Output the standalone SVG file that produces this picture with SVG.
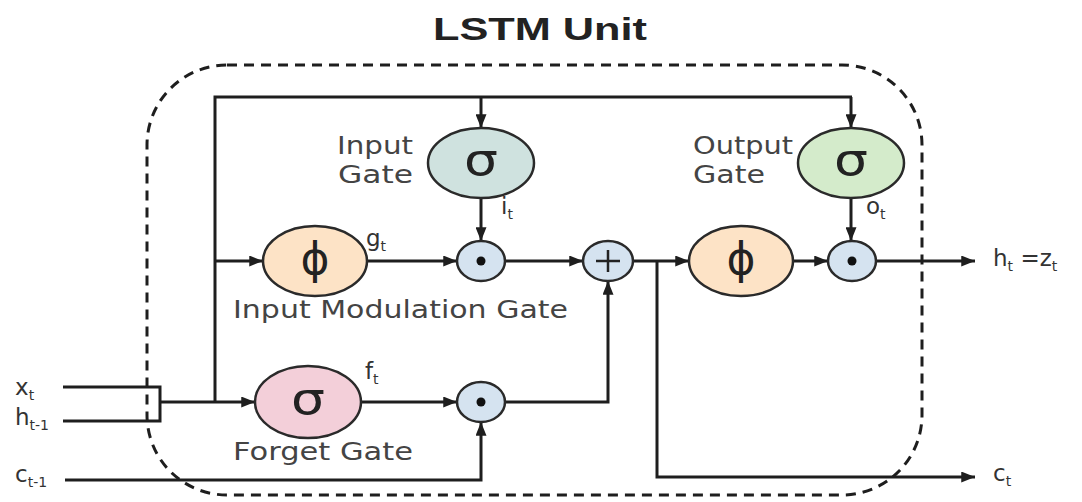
<svg xmlns="http://www.w3.org/2000/svg" width="1082" height="502" viewBox="0 0 1082 502">
<style>
.ln{fill:none;stroke:#1e1e1e;stroke-width:3}
.ar{marker-end:url(#ah)}
.gate{stroke:#2a2a2a;stroke-width:2.5}
.lbl{font-family:"DejaVu Sans","Liberation Sans",sans-serif;font-size:25px;fill:#444}
.sym{font-family:"DejaVu Sans","Liberation Sans",sans-serif;font-size:44px;fill:#222;text-anchor:middle}
.var{font-family:"DejaVu Sans","Liberation Sans",sans-serif;font-size:23px;fill:#333}
.sub{font-size:14px}
</style>
<defs>
<marker id="ah" viewBox="0 0 10 8" refX="10" refY="4" markerWidth="14" markerHeight="11" markerUnits="userSpaceOnUse" orient="auto">
<path d="M0,0 L10,4 L0,8 z" fill="#1e1e1e"/>
</marker>
</defs>
<rect width="1082" height="502" fill="#fff"/>
<text x="540" y="40" text-anchor="middle" font-family="Liberation Sans, Arial, sans-serif" font-weight="bold" font-size="31" fill="#222" textLength="214" lengthAdjust="spacingAndGlyphs">LSTM Unit</text>
<rect id="unit-border" x="147" y="65" width="775" height="430" rx="80" ry="80" fill="none" stroke="#1e1e1e" stroke-width="3" stroke-dasharray="10 7"/>
<g id="connectors">
<path class="ln" d="M215,402 V97 H852"/>
<path class="ln ar" d="M481,97 V128"/>
<path class="ln ar" d="M851,97 V128"/>
<path class="ln ar" d="M481,198 V241"/>
<path class="ln ar" d="M851,198 V241"/>
<path class="ln ar" d="M215,261 H263"/>
<path class="ln ar" d="M367,261 H457"/>
<path class="ln ar" d="M505,261 H583"/>
<path class="ln ar" d="M633,261 H689"/>
<path class="ln ar" d="M793,261 H828"/>
<path class="ln ar" d="M876,261 H975"/>
<path class="ln ar" d="M657,261 V477 H975"/>
<path class="ln" d="M63,387 H160 V421 H63"/>
<path class="ln ar" d="M160,402 H255"/>
<path class="ln ar" d="M361,402 H457"/>
<path class="ln ar" d="M505,402 H608 V281"/>
<path class="ln ar" d="M65,480 H481 V422"/>
</g>
<g id="input-gate">
<ellipse class="gate" cx="481" cy="163" rx="53" ry="35" fill="#cfe2df"/>
<text class="sym" x="481" y="175" textLength="34" lengthAdjust="spacingAndGlyphs">σ</text>
<text class="lbl" x="337" y="154" textLength="76" lengthAdjust="spacingAndGlyphs">Input</text>
<text class="lbl" x="338" y="183" textLength="75" lengthAdjust="spacingAndGlyphs">Gate</text>
</g>
<g id="output-gate">
<ellipse class="gate" cx="851" cy="163" rx="53" ry="35" fill="#d4ebcb"/>
<text class="sym" x="851" y="175" textLength="34" lengthAdjust="spacingAndGlyphs">σ</text>
<text class="lbl" x="693" y="154" textLength="100" lengthAdjust="spacingAndGlyphs">Output</text>
<text class="lbl" x="693" y="183" textLength="72" lengthAdjust="spacingAndGlyphs">Gate</text>
</g>
<g id="input-modulation-gate">
<ellipse class="gate" cx="315" cy="261" rx="52" ry="35" fill="#fde3c6"/>
<text class="sym" x="315" y="274">ϕ</text>
<text class="lbl" x="233" y="318" textLength="335" lengthAdjust="spacingAndGlyphs">Input Modulation Gate</text>
</g>
<g id="mult-input">
<ellipse class="gate" cx="481" cy="261" rx="24" ry="20" fill="#d5e3f0"/>
<circle cx="481" cy="261" r="4.5" fill="#111"/>
</g>
<g id="add-cell">
<ellipse class="gate" cx="608" cy="261" rx="25" ry="20" fill="#d5e3f0"/>
<path d="M596,261 H620 M608,250 V272" stroke="#222" stroke-width="2.5"/>
</g>
<g id="cell-tanh">
<ellipse class="gate" cx="741" cy="261" rx="52" ry="35" fill="#fde3c6"/>
<text class="sym" x="741" y="274">ϕ</text>
</g>
<g id="mult-output">
<ellipse class="gate" cx="852" cy="261" rx="24" ry="20" fill="#d5e3f0"/>
<circle cx="852" cy="261" r="4.5" fill="#111"/>
</g>
<g id="forget-gate">
<ellipse class="gate" cx="308" cy="402" rx="53" ry="36" fill="#f3cfd9"/>
<text class="sym" x="308" y="414" textLength="34" lengthAdjust="spacingAndGlyphs">σ</text>
<text class="lbl" x="233" y="460" textLength="180" lengthAdjust="spacingAndGlyphs">Forget Gate</text>
</g>
<g id="mult-forget">
<ellipse class="gate" cx="481" cy="402" rx="24" ry="20" fill="#d5e3f0"/>
<circle cx="481" cy="402" r="4.5" fill="#111"/>
</g>
<g id="labels">
<text class="var" x="366" y="246">g<tspan class="sub" dy="5">t</tspan></text>
<text class="var" x="501" y="214">i<tspan class="sub" dy="5">t</tspan></text>
<text class="var" x="866" y="214">o<tspan class="sub" dy="5">t</tspan></text>
<text class="var" x="365" y="379">f<tspan class="sub" dy="5">t</tspan></text>
<text class="var" x="993" y="266">h<tspan class="sub" dy="5">t</tspan><tspan dy="-5"> =z</tspan><tspan class="sub" dy="5">t</tspan></text>
<text class="var" x="993" y="481">c<tspan class="sub" dy="5">t</tspan></text>
<text class="var" x="15" y="395">x<tspan class="sub" dy="5">t</tspan></text>
<text class="var" x="15" y="425">h<tspan class="sub" dy="5">t-1</tspan></text>
<text class="var" x="15" y="482">c<tspan class="sub" dy="5">t-1</tspan></text>
</g>
</svg>
